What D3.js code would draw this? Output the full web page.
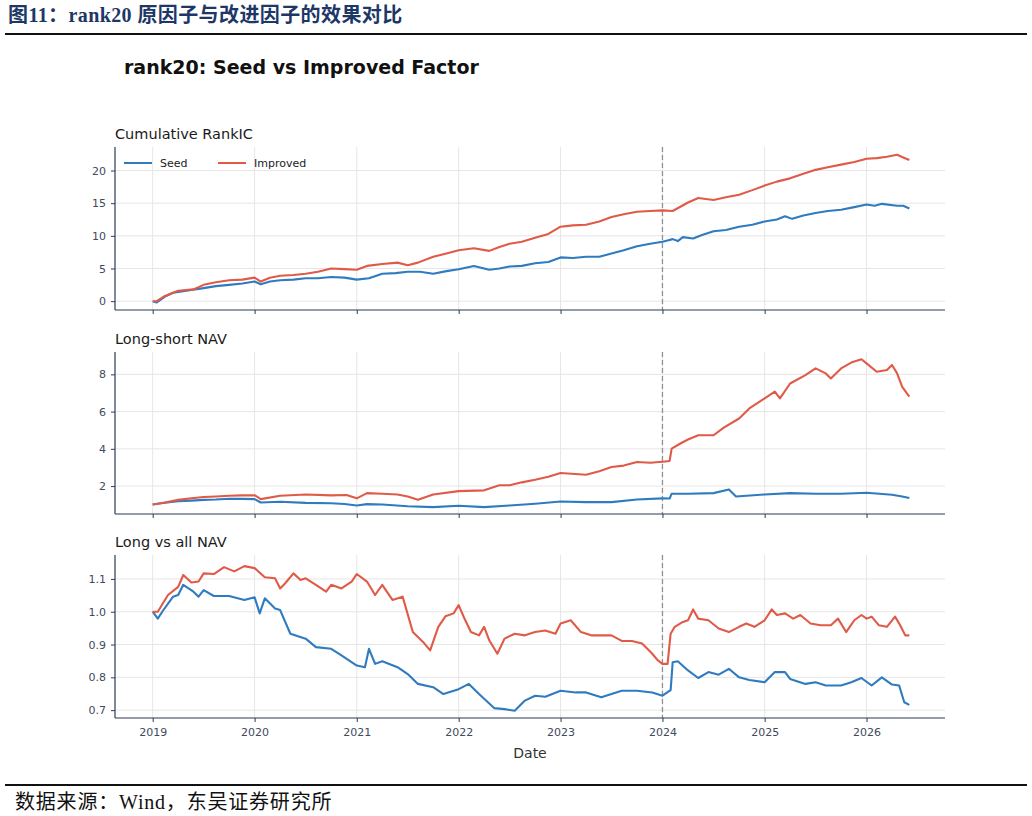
<!DOCTYPE html>
<html>
<head>
<meta charset="utf-8">
<script src="https://cdn.jsdelivr.net/npm/d3@7"></script>
<style>
  body { margin: 0; background: #fff; }
  svg { display: block; }
</style>
</head>
<body>
<svg id="chart" width="1032" height="816"></svg>
<script>
// ---- data (decimal years / values) ----
const icSeedT = [2019.0, 2019.04, 2019.12, 2019.2, 2019.25, 2019.38, 2019.5, 2019.62, 2019.75, 2019.88, 2020.0, 2020.06, 2020.15, 2020.25, 2020.38, 2020.5, 2020.62, 2020.75, 2020.88, 2021.0, 2021.12, 2021.25, 2021.38, 2021.5, 2021.62, 2021.75, 2021.88, 2022.0, 2022.15, 2022.3, 2022.4, 2022.5, 2022.62, 2022.75, 2022.88, 2023.0, 2023.12, 2023.25, 2023.38, 2023.5, 2023.62, 2023.75, 2023.88, 2024.0, 2024.05, 2024.1, 2024.15, 2024.2, 2024.3, 2024.38, 2024.5, 2024.62, 2024.75, 2024.88, 2025.0, 2025.12, 2025.2, 2025.27, 2025.38, 2025.5, 2025.62, 2025.75, 2025.88, 2026.0, 2026.08, 2026.15, 2026.3, 2026.36, 2026.42];
const icSeedV = [0, -0.2, 0.7, 1.3, 1.4, 1.7, 2.0, 2.3, 2.5, 2.7, 3.0, 2.6, 3.0, 3.2, 3.3, 3.5, 3.5, 3.7, 3.6, 3.3, 3.5, 4.2, 4.3, 4.5, 4.5, 4.2, 4.6, 4.9, 5.4, 4.8, 5.0, 5.3, 5.4, 5.8, 6.0, 6.7, 6.6, 6.8, 6.8, 7.3, 7.8, 8.4, 8.8, 9.1, 9.3, 9.5, 9.2, 9.8, 9.6, 10.1, 10.7, 10.9, 11.4, 11.7, 12.2, 12.5, 13.0, 12.6, 13.1, 13.5, 13.8, 14.0, 14.4, 14.8, 14.6, 14.9, 14.6, 14.6, 14.2];

const icImpT = [2019.0, 2019.04, 2019.12, 2019.25, 2019.4, 2019.5, 2019.62, 2019.75, 2019.88, 2020.0, 2020.06, 2020.15, 2020.25, 2020.38, 2020.5, 2020.62, 2020.75, 2020.88, 2021.0, 2021.1, 2021.25, 2021.4, 2021.5, 2021.6, 2021.75, 2021.88, 2022.0, 2022.15, 2022.3, 2022.4, 2022.5, 2022.62, 2022.75, 2022.88, 2023.0, 2023.12, 2023.25, 2023.38, 2023.5, 2023.62, 2023.75, 2023.88, 2024.0, 2024.1, 2024.25, 2024.35, 2024.5, 2024.62, 2024.75, 2024.88, 2025.0, 2025.12, 2025.25, 2025.38, 2025.5, 2025.62, 2025.75, 2025.88, 2026.0, 2026.1, 2026.2, 2026.3, 2026.36, 2026.42];
const icImpV = [0, 0, 0.8, 1.6, 1.8, 2.5, 2.9, 3.2, 3.3, 3.6, 3.0, 3.6, 3.9, 4.0, 4.2, 4.5, 5.0, 4.9, 4.8, 5.4, 5.7, 5.9, 5.5, 5.9, 6.8, 7.3, 7.8, 8.1, 7.7, 8.3, 8.8, 9.1, 9.7, 10.3, 11.4, 11.6, 11.7, 12.2, 12.9, 13.3, 13.7, 13.8, 13.9, 13.8, 15.1, 15.8, 15.5, 15.9, 16.3, 17.0, 17.7, 18.3, 18.8, 19.5, 20.1, 20.5, 20.9, 21.3, 21.8, 21.9, 22.1, 22.4, 22.0, 21.6];

const lsSeedT = [2019.0, 2019.12, 2019.25, 2019.38, 2019.5, 2019.62, 2019.75, 2019.88, 2020.0, 2020.06, 2020.25, 2020.5, 2020.75, 2020.88, 2021.0, 2021.1, 2021.25, 2021.5, 2021.75, 2022.0, 2022.25, 2022.5, 2022.75, 2023.0, 2023.25, 2023.5, 2023.75, 2024.0, 2024.07, 2024.09, 2024.25, 2024.5, 2024.65, 2024.72, 2025.0, 2025.25, 2025.5, 2025.75, 2026.0, 2026.25, 2026.35, 2026.42];
const lsSeedV = [1.01, 1.1, 1.19, 1.22, 1.26, 1.28, 1.32, 1.31, 1.3, 1.12, 1.16, 1.1, 1.08, 1.04, 0.96, 1.03, 1.01, 0.92, 0.87, 0.94, 0.87, 0.96, 1.05, 1.17, 1.14, 1.14, 1.28, 1.34, 1.33, 1.59, 1.59, 1.62, 1.82, 1.44, 1.55, 1.62, 1.59, 1.59, 1.64, 1.53, 1.44, 1.36];

const lsImpT = [2019.0, 2019.12, 2019.25, 2019.38, 2019.5, 2019.62, 2019.75, 2019.88, 2020.0, 2020.06, 2020.25, 2020.5, 2020.75, 2020.9, 2021.0, 2021.1, 2021.25, 2021.4, 2021.5, 2021.6, 2021.75, 2022.0, 2022.25, 2022.4, 2022.5, 2022.62, 2022.75, 2022.88, 2023.0, 2023.25, 2023.38, 2023.5, 2023.62, 2023.75, 2023.88, 2024.0, 2024.07, 2024.09, 2024.18, 2024.25, 2024.35, 2024.5, 2024.6, 2024.75, 2024.85, 2025.0, 2025.1, 2025.15, 2025.25, 2025.4, 2025.5, 2025.6, 2025.65, 2025.75, 2025.85, 2025.95, 2026.0, 2026.1, 2026.2, 2026.25, 2026.3, 2026.35, 2026.42];
const lsImpV = [1.01, 1.12, 1.26, 1.35, 1.41, 1.44, 1.48, 1.5, 1.51, 1.3, 1.48, 1.55, 1.5, 1.52, 1.34, 1.62, 1.59, 1.55, 1.44, 1.26, 1.55, 1.73, 1.77, 2.04, 2.04, 2.2, 2.34, 2.5, 2.7, 2.61, 2.8, 3.02, 3.1, 3.29, 3.25, 3.31, 3.35, 4.01, 4.3, 4.5, 4.73, 4.73, 5.14, 5.63, 6.17, 6.71, 7.07, 6.71, 7.51, 7.96, 8.32, 8.05, 7.78, 8.32, 8.63, 8.81, 8.59, 8.14, 8.23, 8.5, 8.05, 7.33, 6.8];

const lvSeedT = [2019.0, 2019.05, 2019.1, 2019.2, 2019.25, 2019.3, 2019.4, 2019.45, 2019.5, 2019.6, 2019.75, 2019.9, 2020.0, 2020.05, 2020.1, 2020.2, 2020.25, 2020.35, 2020.5, 2020.6, 2020.75, 2020.85, 2021.0, 2021.08, 2021.12, 2021.18, 2021.25, 2021.4, 2021.5, 2021.6, 2021.75, 2021.85, 2022.0, 2022.1, 2022.2, 2022.35, 2022.45, 2022.55, 2022.65, 2022.75, 2022.85, 2023.0, 2023.15, 2023.25, 2023.4, 2023.5, 2023.6, 2023.75, 2023.9, 2024.0, 2024.08, 2024.1, 2024.15, 2024.25, 2024.35, 2024.45, 2024.55, 2024.65, 2024.75, 2024.85, 2025.0, 2025.1, 2025.2, 2025.25, 2025.4, 2025.5, 2025.6, 2025.75, 2025.85, 2025.95, 2026.05, 2026.15, 2026.25, 2026.32, 2026.37, 2026.42];
const lvSeedV = [1.0, 0.979, 1.003, 1.046, 1.051, 1.082, 1.061, 1.046, 1.066, 1.048, 1.048, 1.036, 1.044, 0.995, 1.041, 1.01, 1.005, 0.933, 0.918, 0.892, 0.887, 0.867, 0.836, 0.831, 0.887, 0.841, 0.849, 0.831, 0.81, 0.78, 0.77, 0.749, 0.764, 0.78, 0.749, 0.706, 0.703, 0.698, 0.729, 0.744, 0.741, 0.759, 0.754, 0.754, 0.739, 0.749, 0.759, 0.759, 0.754, 0.744, 0.761, 0.846, 0.849, 0.821, 0.798, 0.816, 0.808, 0.826, 0.8, 0.792, 0.785, 0.816, 0.816, 0.795, 0.78, 0.785, 0.775, 0.775, 0.785, 0.798, 0.775, 0.8, 0.778, 0.775, 0.724, 0.716];

const lvImpT = [2019.0, 2019.05, 2019.15, 2019.25, 2019.3, 2019.38, 2019.45, 2019.5, 2019.6, 2019.7, 2019.8, 2019.9, 2020.0, 2020.1, 2020.2, 2020.25, 2020.3, 2020.38, 2020.45, 2020.5, 2020.6, 2020.7, 2020.75, 2020.85, 2020.95, 2021.0, 2021.1, 2021.18, 2021.25, 2021.35, 2021.45, 2021.55, 2021.65, 2021.72, 2021.8, 2021.87, 2021.95, 2022.0, 2022.05, 2022.12, 2022.2, 2022.25, 2022.3, 2022.38, 2022.45, 2022.55, 2022.65, 2022.75, 2022.85, 2022.95, 2023.0, 2023.1, 2023.2, 2023.3, 2023.4, 2023.5, 2023.6, 2023.7, 2023.8, 2023.9, 2023.95, 2024.0, 2024.05, 2024.08, 2024.12, 2024.2, 2024.25, 2024.3, 2024.35, 2024.45, 2024.55, 2024.65, 2024.75, 2024.82, 2024.9, 2025.0, 2025.07, 2025.12, 2025.2, 2025.28, 2025.35, 2025.45, 2025.55, 2025.65, 2025.72, 2025.8, 2025.88, 2025.95, 2026.0, 2026.05, 2026.12, 2026.2, 2026.28, 2026.33, 2026.38, 2026.42];
const lvImpV = [1.0, 1.0, 1.051, 1.076, 1.112, 1.089, 1.092, 1.117, 1.115, 1.136, 1.123, 1.139, 1.133, 1.105, 1.102, 1.071, 1.087, 1.117, 1.097, 1.102, 1.082, 1.061, 1.082, 1.071, 1.092, 1.115, 1.092, 1.051, 1.082, 1.036, 1.046, 0.938, 0.908, 0.882, 0.954, 0.986, 0.995, 1.02, 0.984, 0.938, 0.928, 0.954, 0.913, 0.872, 0.918, 0.933, 0.928, 0.938, 0.943, 0.933, 0.964, 0.974, 0.938, 0.928, 0.928, 0.928, 0.911, 0.911, 0.903, 0.872, 0.853, 0.841, 0.841, 0.933, 0.954, 0.969, 0.974, 1.007, 0.979, 0.974, 0.949, 0.938, 0.954, 0.964, 0.954, 0.974, 1.007, 0.99, 0.995, 0.979, 0.99, 0.964, 0.959, 0.959, 0.979, 0.938, 0.974, 0.99, 0.979, 0.985, 0.959, 0.954, 0.985, 0.959, 0.928, 0.928];

const panelTitles = ["Cumulative RankIC", "Long-short NAV", "Long vs all NAV"];
const seriesNames = ["Seed", "Improved"];
const yTicks = [[0, 5, 10, 15, 20], [2, 4, 6, 8], [0.7, 0.8, 0.9, 1.0, 1.1]];
const yDomains = [[-1.35, 23.6], [0.5, 9.2], [0.676, 1.173]];
const xDomainYears = [2018.63, 2026.77];
const splitYear = 2024.0;

// ---- style ----
const seedColor = "#2f7bbf";
const impColor = "#e05a48";
const spineColor = "#2c3b55";
const tickText = "#3f4a5c";
const gridColor = "#e6e6e6";
const font = "'DejaVu Sans', sans-serif";
const serifCn = "'Liberation Serif', 'Noto Sans CJK SC', serif";

function toDate(y) {
  const yr = Math.floor(y);
  const a = Date.UTC(yr, 0, 1), b = Date.UTC(yr + 1, 0, 1);
  return new Date(a + (y - yr) * (b - a));
}
function pairs(ts, vs) {
  return ts.map(function(t, i) { return { date: toDate(t), value: vs[i] }; });
}

const panels = [
  { seed: pairs(icSeedT, icSeedV), imp: pairs(icImpT, icImpV) },
  { seed: pairs(lsSeedT, lsSeedV), imp: pairs(lsImpT, lsImpV) },
  { seed: pairs(lvSeedT, lvSeedV), imp: pairs(lvImpT, lvImpV) },
];

const svg = d3.select("#chart");
const left = 115, right = 945;
const tops = [147, 352, 555], bottoms = [310, 514, 718];

// header
svg.append("text")
  .attr("x", 8).attr("y", 22)
  .attr("font-family", serifCn)
  .attr("font-weight", "bold")
  .attr("font-size", 20)
  .attr("letter-spacing", 0.4)
  .attr("fill", "#1d3766")
  .text("图11：rank20 原因子与改进因子的效果对比");
svg.append("line")
  .attr("x1", 5).attr("x2", 1027).attr("y1", 34).attr("y2", 34)
  .attr("stroke", "#111").attr("stroke-width", 2);

svg.append("text")
  .attr("x", 124).attr("y", 74)
  .attr("font-family", font)
  .attr("font-weight", "bold")
  .attr("font-size", 19)
  .attr("fill", "#111")
  .text("rank20: Seed vs Improved Factor");

const x = d3.scaleUtc()
  .domain(xDomainYears.map(toDate))
  .range([left, right]);
const xTickVals = d3.range(2019, 2027).map(function(y) { return toDate(y); });

panels.forEach(function(p, i) {
  const top = tops[i], bottom = bottoms[i];
  const y = d3.scaleLinear().domain(yDomains[i]).range([bottom, top]);
  const g = svg.append("g");

  // grid
  g.selectAll(".gx").data(xTickVals).enter().append("line")
    .attr("x1", function(d) { return x(d); }).attr("x2", function(d) { return x(d); })
    .attr("y1", top).attr("y2", bottom)
    .attr("stroke", gridColor).attr("stroke-width", 1);
  g.selectAll(".gy").data(yTicks[i]).enter().append("line")
    .attr("x1", left).attr("x2", right)
    .attr("y1", function(d) { return y(d); }).attr("y2", function(d) { return y(d); })
    .attr("stroke", gridColor).attr("stroke-width", 1);

  // split marker
  g.append("line")
    .attr("x1", x(toDate(splitYear))).attr("x2", x(toDate(splitYear)))
    .attr("y1", top).attr("y2", bottom)
    .attr("stroke", "#8c9099").attr("stroke-width", 1.3)
    .attr("stroke-dasharray", "5,3");

  const line = d3.line()
    .x(function(d) { return x(d.date); })
    .y(function(d) { return y(d.value); });

  g.append("path").datum(p.seed)
    .attr("d", line).attr("fill", "none")
    .attr("stroke", seedColor).attr("stroke-width", 2.1)
    .attr("stroke-linejoin", "round");
  g.append("path").datum(p.imp)
    .attr("d", line).attr("fill", "none")
    .attr("stroke", impColor).attr("stroke-width", 2.1)
    .attr("stroke-linejoin", "round");

  // axes
  const yAxis = d3.axisLeft(y).tickValues(yTicks[i]).tickSize(4).tickPadding(5)
    .tickFormat(i === 2 ? d3.format(".1f") : d3.format("d"));
  const ya = g.append("g").attr("transform", "translate(" + left + ",0)").call(yAxis);
  const xAxis = d3.axisBottom(x).tickValues(xTickVals).tickSize(4).tickPadding(6)
    .tickFormat(i === 2 ? d3.utcFormat("%Y") : "");
  const xa = g.append("g").attr("transform", "translate(0," + bottom + ")").call(xAxis);

  [ya, xa].forEach(function(a) {
    a.select(".domain").attr("stroke", spineColor).attr("stroke-width", 1.2);
    a.selectAll(".tick line").attr("stroke", spineColor).attr("stroke-width", 1);
    a.selectAll(".tick text").attr("fill", tickText)
      .attr("font-family", font).attr("font-size", 11);
  });
  // plain spines, no end caps
  ya.select(".domain").attr("d", "M0," + bottom + "V" + top);
  xa.select(".domain").attr("d", "M" + left + ",0H" + right);

  g.append("text")
    .attr("x", left).attr("y", top - 8)
    .attr("font-family", font).attr("font-size", 14.5)
    .attr("fill", "#1a1a1a")
    .text(panelTitles[i]);

  if (i === 0) {
    const lg = g.append("g").attr("transform", "translate(124," + 163 + ")");
    [seedColor, impColor].forEach(function(c, k) {
      const off = k * 94;
      lg.append("line").attr("x1", off).attr("x2", off + 28)
        .attr("y1", 0).attr("y2", 0)
        .attr("stroke", c).attr("stroke-width", 2);
      lg.append("text").attr("x", off + 36).attr("y", 4)
        .attr("font-family", font).attr("font-size", 11)
        .attr("fill", "#222")
        .text(seriesNames[k]);
    });
  }
});

svg.append("text")
  .attr("x", (left + right) / 2).attr("y", 758)
  .attr("text-anchor", "middle")
  .attr("font-family", font).attr("font-size", 14)
  .attr("fill", "#333")
  .text("Date");

svg.append("line")
  .attr("x1", 5).attr("x2", 1027).attr("y1", 785).attr("y2", 785)
  .attr("stroke", "#111").attr("stroke-width", 2);
svg.append("text")
  .attr("x", 15).attr("y", 809)
  .attr("font-family", serifCn)
  .attr("font-size", 20)
  .attr("letter-spacing", 0.8)
  .attr("fill", "#111")
  .text("数据来源：Wind，东吴证券研究所");
</script>
</body>
</html>
